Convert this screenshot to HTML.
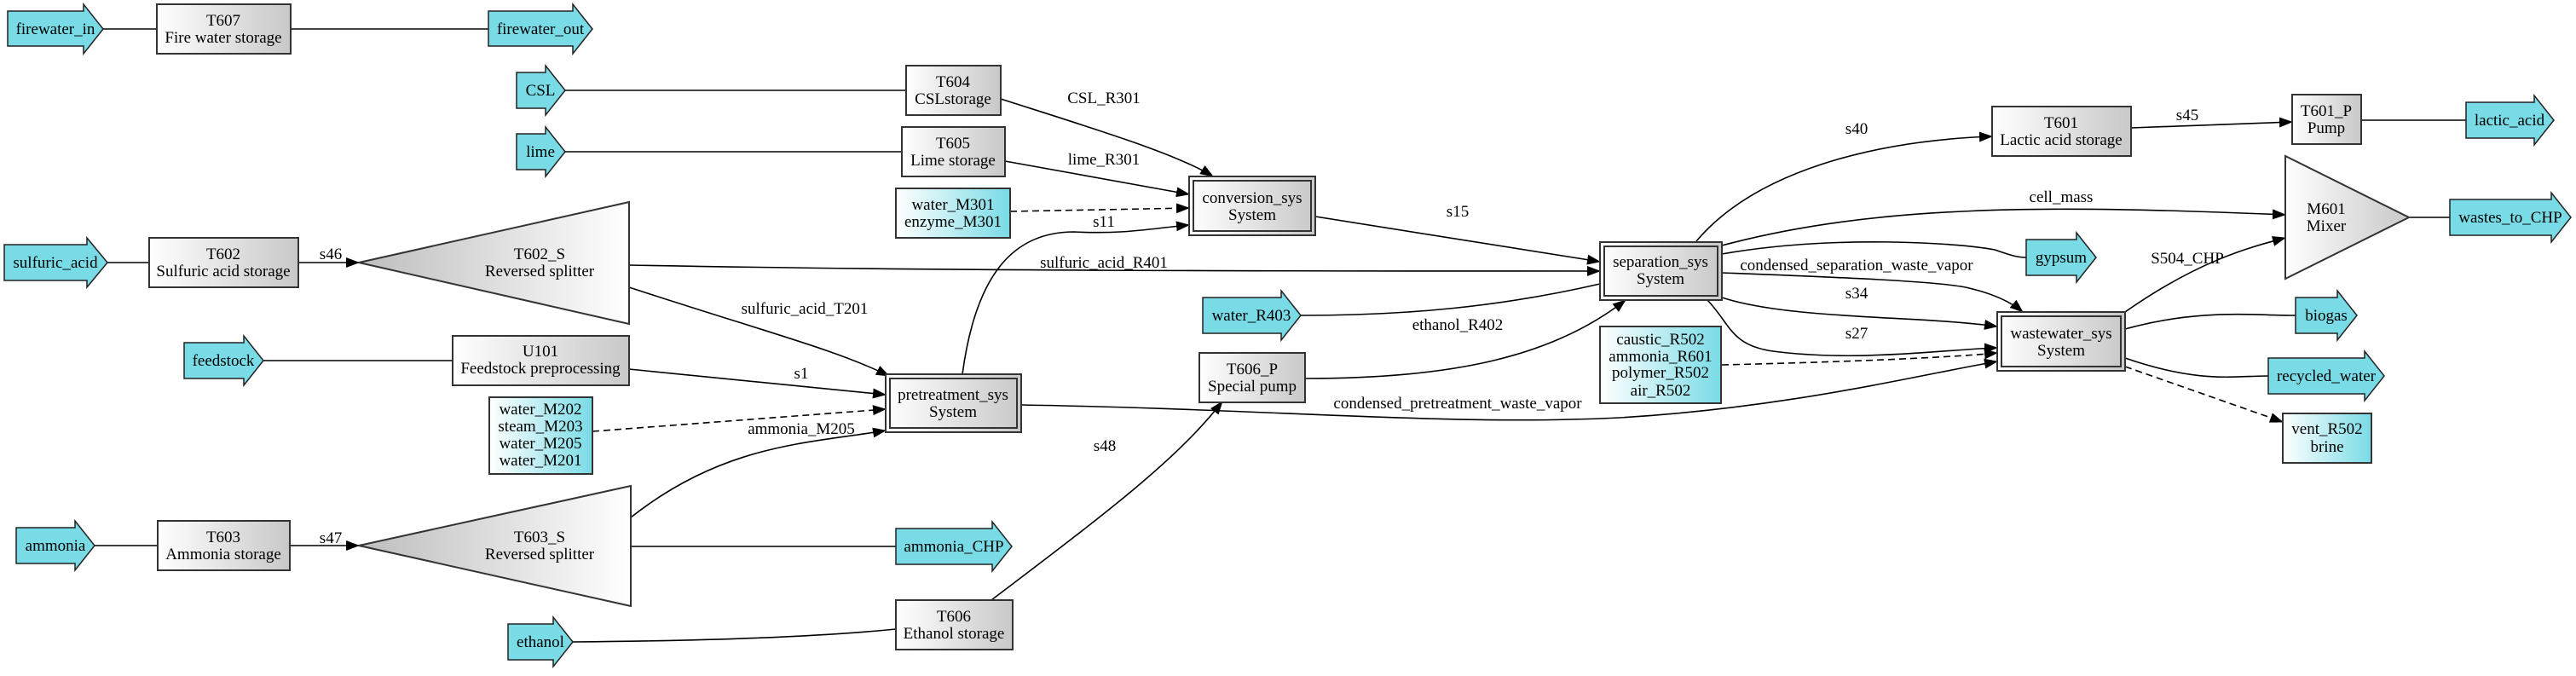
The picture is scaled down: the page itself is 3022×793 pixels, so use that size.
<!DOCTYPE html>
<html><head><meta charset="utf-8"><style>
html,body{margin:0;padding:0;background:#fff;}
svg{display:block;}
text{font-family:"Liberation Serif",serif;font-size:19px;fill:#000;}
</style></head><body>
<svg width="3022" height="793" viewBox="0 0 3022 793" xmlns="http://www.w3.org/2000/svg">
<defs>
<linearGradient id="g" x1="0" y1="0" x2="1" y2="0"><stop offset="0" stop-color="#ffffff"/><stop offset="1" stop-color="#c8c8c8"/></linearGradient>
<linearGradient id="gr" x1="0" y1="0" x2="1" y2="0"><stop offset="0" stop-color="#bdbdbd"/><stop offset="1" stop-color="#ffffff"/></linearGradient>
<linearGradient id="gc" x1="0" y1="0" x2="1" y2="0"><stop offset="0" stop-color="#ffffff"/><stop offset="1" stop-color="#79dbe6"/></linearGradient>
<marker id="a" markerWidth="16" markerHeight="12" refX="15" refY="6" orient="auto" markerUnits="userSpaceOnUse"><path d="M0,0 L16,6 L0,12 z" fill="#000"/></marker>
</defs>

<g fill="none" stroke="#000" stroke-width="1.6">
<path d="M121,34 L184,34" stroke="#444" stroke-width="2"/>
<path d="M341,34 L573,34" stroke="#444" stroke-width="2"/>
<path d="M663,106 L1063,106" stroke="#444" stroke-width="2"/>
<path d="M663,178 L1058,178" stroke="#444" stroke-width="2"/>
<path d="M126,308 L175,308"/>
<path d="M309,423 L531,423"/>
<path d="M111,640 L185,640"/>
<path d="M740,641 L1051,641"/>
<path d="M672,753 C800,752 950,748 1051,738"/>
<path d="M1526,370 C1650,370 1760,360 1877,333"/>
<path d="M2770,141 L2893,141"/>
<path d="M2826,255 L2874,255"/>
<path d="M2020,298 C2150,275 2300,285 2340,293 C2355,298 2365,302 2377,302"/>
<path d="M2493,386 C2580,362 2640,370 2693,370"/>
<path d="M2493,420 C2580,450 2620,441 2661,441"/>
<path d="M350,308 L421,308" marker-end="url(#a)"/>
<path d="M340,640 L421,640" marker-end="url(#a)"/>
<path d="M738,311 C1100,318 1500,318 1877,318" marker-end="url(#a)"/>
<path d="M738,337 C900,390 980,410 1043,441" marker-end="url(#a)"/>
<path d="M738,433 L1039,463" marker-end="url(#a)"/>
<path d="M740,607 C850,520 950,520 1039,505" marker-end="url(#a)"/>
<path d="M1163,704 C1300,600 1380,540 1434,471" marker-end="url(#a)"/>
<path d="M1129,439 C1145,320 1190,272 1260,272 C1320,275 1350,268 1395,264" marker-end="url(#a)"/>
<path d="M1174,116 C1280,150 1380,180 1423,207" marker-end="url(#a)"/>
<path d="M1179,189 L1395,228" marker-end="url(#a)"/>
<path d="M1543,254 L1877,307" marker-end="url(#a)"/>
<path d="M1531,444 C1700,444 1820,420 1907,352" marker-end="url(#a)"/>
<path d="M1198,475 C1500,480 1700,500 1900,490 C2100,478 2250,440 2343,424" marker-end="url(#a)"/>
<path d="M1990,283 C2060,200 2200,165 2337,160" marker-end="url(#a)"/>
<path d="M2500,150 L2689,143" marker-end="url(#a)"/>
<path d="M2020,288 C2200,240 2400,240 2681,252" marker-end="url(#a)"/>
<path d="M2020,320 C2150,325 2280,330 2310,338 C2340,345 2360,355 2373,366" marker-end="url(#a)"/>
<path d="M2020,349 C2100,375 2250,370 2343,383" marker-end="url(#a)"/>
<path d="M2003,352 C2030,380 2030,405 2080,412 C2180,425 2280,410 2343,408" marker-end="url(#a)"/>
<path d="M2493,366 C2580,305 2640,290 2681,279" marker-end="url(#a)"/>
<path d="M695,506 L1039,480" stroke-dasharray="8,5" marker-end="url(#a)"/>
<path d="M1185,248 L1395,244" stroke-dasharray="8,5" marker-end="url(#a)"/>
<path d="M2020,428 C2150,425 2280,420 2343,414" stroke-dasharray="8,5" marker-end="url(#a)"/>
<path d="M2493,430 L2678,495" stroke-dasharray="8,5" marker-end="url(#a)"/>
</g>

<g fill="#79dbe6" stroke="#222" stroke-width="1.5">
<polygon points="9,13 98,13 98,5 121,34 98,63 98,54 9,54"/>
<polygon points="573,13 672,13 672,5 695,34 672,63 672,54 573,54"/>
<polygon points="606,85 640,85 640,77 663,106 640,135 640,127 606,127"/>
<polygon points="606,157 640,157 640,149 663,178 640,207 640,199 606,199"/>
<polygon points="5,287 102,287 102,279 126,308 102,337 102,329 5,329"/>
<polygon points="216,402 286,402 286,394 309,423 286,452 286,444 216,444"/>
<polygon points="19,619 88,619 88,611 111,640 88,669 88,661 19,661"/>
<polygon points="1051,620 1164,620 1164,612 1187,641 1164,670 1164,662 1051,662"/>
<polygon points="596,732 649,732 649,724 672,753 649,782 649,774 596,774"/>
<polygon points="1411,349 1503,349 1503,341 1526,370 1503,399 1503,391 1411,391"/>
<polygon points="2893,120 2973,120 2973,112 2996,141 2973,170 2973,162 2893,162"/>
<polygon points="2874,234 2993,234 2993,226 3016,255 2993,284 2993,276 2874,276"/>
<polygon points="2377,281 2436,281 2436,273 2459,302 2436,331 2436,323 2377,323"/>
<polygon points="2693,349 2742,349 2742,341 2765,370 2742,399 2742,391 2693,391"/>
<polygon points="2661,420 2774,420 2774,412 2797,441 2774,470 2774,462 2661,462"/>
</g>

<g fill="url(#g)" stroke="#333" stroke-width="2">
<rect x="184" y="5" width="157" height="58"/>
<rect x="1063" y="77" width="111" height="58"/>
<rect x="1058" y="149" width="121" height="58"/>
<rect x="175" y="279" width="175" height="58"/>
<rect x="531" y="394" width="207" height="58"/>
<rect x="185" y="611" width="155" height="58"/>
<rect x="1051" y="704" width="137" height="58"/>
<rect x="1407" y="414" width="124" height="58"/>
<rect x="2337" y="125" width="163" height="58"/>
<rect x="2689" y="111" width="81" height="58"/>
<rect x="1395" y="207" width="148" height="69"/>
<rect x="1039" y="439" width="159" height="68"/>
<rect x="1877" y="284" width="143" height="68"/>
<rect x="2343" y="366" width="150" height="69"/>
</g>
<g fill="none" stroke="#333" stroke-width="2">
<rect x="1400" y="212" width="138" height="59"/>
<rect x="1044" y="444" width="149" height="58"/>
<rect x="1882" y="289" width="133" height="58"/>
<rect x="2348" y="371" width="140" height="59"/>
</g>
<g fill="url(#gc)" stroke="#333" stroke-width="2">
<rect x="1051" y="221" width="134" height="58"/>
<rect x="574" y="466" width="121" height="90"/>
<rect x="1877" y="383" width="142" height="90"/>
<rect x="2678" y="485" width="104" height="58"/>
</g>
<g stroke="#333" stroke-width="2">
<polygon points="421,308 738,237 738,380" fill="url(#gr)"/>
<polygon points="421,640 740,570 740,711" fill="url(#gr)"/>
<polygon points="2681,183 2681,327 2826,255" fill="url(#g)"/>
</g>

<g text-anchor="middle">
<text x="65" y="40">firewater_in</text>
<text x="634" y="40">firewater_out</text>
<text x="634" y="112">CSL</text>
<text x="634" y="184">lime</text>
<text x="65" y="314">sulfuric_acid</text>
<text x="262" y="429">feedstock</text>
<text x="65" y="646">ammonia</text>
<text x="1119" y="647">ammonia_CHP</text>
<text x="634" y="759">ethanol</text>
<text x="1468" y="376">water_R403</text>
<text x="2944" y="147">lactic_acid</text>
<text x="2945" y="261">wastes_to_CHP</text>
<text x="2418" y="308">gypsum</text>
<text x="2729" y="376">biogas</text>
<text x="2729" y="447">recycled_water</text>

<text x="262" y="30">T607</text><text x="262" y="50">Fire water storage</text>
<text x="1118" y="102">T604</text><text x="1118" y="122">CSLstorage</text>
<text x="1118" y="174">T605</text><text x="1118" y="194">Lime storage</text>
<text x="262" y="304">T602</text><text x="262" y="324">Sulfuric acid storage</text>
<text x="634" y="418">U101</text><text x="634" y="438">Feedstock preprocessing</text>
<text x="262" y="636">T603</text><text x="262" y="656">Ammonia storage</text>
<text x="1119" y="729">T606</text><text x="1119" y="749">Ethanol storage</text>
<text x="1469" y="439">T606_P</text><text x="1469" y="459">Special pump</text>
<text x="2418" y="150">T601</text><text x="2418" y="170">Lactic acid storage</text>
<text x="2729" y="136">T601_P</text><text x="2729" y="156">Pump</text>

<text x="1469" y="238">conversion_sys</text><text x="1469" y="258">System</text>
<text x="1118" y="469">pretreatment_sys</text><text x="1118" y="489">System</text>
<text x="1948" y="313">separation_sys</text><text x="1948" y="333">System</text>
<text x="2418" y="397">wastewater_sys</text><text x="2418" y="417">System</text>

<text x="1118" y="246">water_M301</text><text x="1118" y="266">enzyme_M301</text>
<text x="634" y="486">water_M202</text><text x="634" y="506">steam_M203</text><text x="634" y="526">water_M205</text><text x="634" y="546">water_M201</text>
<text x="1948" y="404">caustic_R502</text><text x="1948" y="424">ammonia_R601</text><text x="1948" y="443">polymer_R502</text><text x="1948" y="464">air_R502</text>
<text x="2730" y="509">vent_R502</text><text x="2730" y="530">brine</text>

<text x="633" y="304">T602_S</text><text x="633" y="324">Reversed splitter</text>
<text x="633" y="636">T603_S</text><text x="633" y="656">Reversed splitter</text>
<text x="2729" y="251">M601</text><text x="2729" y="271">Mixer</text>

<text x="388" y="304">s46</text>
<text x="388" y="637">s47</text>
<text x="944" y="368">sulfuric_acid_T201</text>
<text x="940" y="444">s1</text>
<text x="940" y="509">ammonia_M205</text>
<text x="1296" y="529">s48</text>
<text x="1295" y="121">CSL_R301</text>
<text x="1295" y="193">lime_R301</text>
<text x="1295" y="266">s11</text>
<text x="1295" y="314">sulfuric_acid_R401</text>
<text x="1710" y="254">s15</text>
<text x="1710" y="387">ethanol_R402</text>
<text x="1710" y="479">condensed_pretreatment_waste_vapor</text>
<text x="2178" y="157">s40</text>
<text x="2566" y="141">s45</text>
<text x="2418" y="237">cell_mass</text>
<text x="2178" y="317">condensed_separation_waste_vapor</text>
<text x="2566" y="309">S504_CHP</text>
<text x="2178" y="350">s34</text>
<text x="2178" y="397">s27</text>
</g>
</svg>
</body></html>
